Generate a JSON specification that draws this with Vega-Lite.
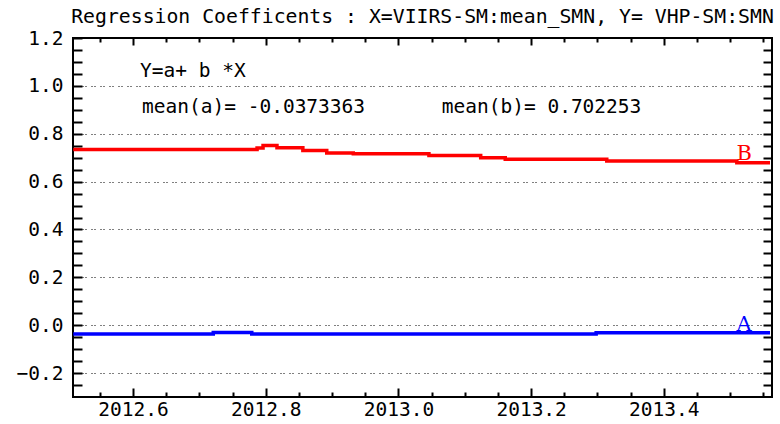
{
  "$schema": "https://vega.github.io/schema/vega-lite/v6.json",
  "autosize": "none",
  "padding": {"left": 73, "top": 38, "right": 8, "bottom": 27},
  "width": 699,
  "height": 359,
  "background": "white",
  "title": {
    "text": "Regression Coefficents : X=VIIRS-SM:mean_SMN, Y= VHP-SM:SMN",
    "font": "DejaVu Sans Mono",
    "fontSize": 19.8,
    "fontWeight": "normal",
    "color": "#000000",
    "anchor": "middle",
    "baseline": "bottom",
    "offset": 7,
    "dy": 26
  },
  "config": {
    "view": {"stroke": "#000000", "strokeWidth": 2},
    "axis": {
      "domain": false,
      "labelFont": "DejaVu Sans Mono",
      "labelFontSize": 19.5,
      "labelColor": "#000000",
      "tickColor": "#000000",
      "tickWidth": 2
    }
  },
  "datasets": {
    "coef": [
      {"series": "b", "t": 2012.510, "v": 0.734},
      {"series": "b", "t": 2012.787, "v": 0.740},
      {"series": "b", "t": 2012.796, "v": 0.751},
      {"series": "b", "t": 2012.817, "v": 0.741},
      {"series": "b", "t": 2012.856, "v": 0.730},
      {"series": "b", "t": 2012.892, "v": 0.720},
      {"series": "b", "t": 2012.932, "v": 0.716},
      {"series": "b", "t": 2013.046, "v": 0.709},
      {"series": "b", "t": 2013.124, "v": 0.700},
      {"series": "b", "t": 2013.161, "v": 0.693},
      {"series": "b", "t": 2013.314, "v": 0.686},
      {"series": "b", "t": 2013.510, "v": 0.679},
      {"series": "b", "t": 2013.560, "v": 0.679},
      {"series": "a", "t": 2012.510, "v": -0.037},
      {"series": "a", "t": 2012.721, "v": -0.030},
      {"series": "a", "t": 2012.779, "v": -0.037},
      {"series": "a", "t": 2013.298, "v": -0.032},
      {"series": "a", "t": 2013.560, "v": -0.032}
    ],
    "notes": [
      {"t": 2012.6106, "v": 1.062, "label": "Y=a+ b *X"},
      {"t": 2012.6136, "v": 0.913, "label": "mean(a)= -0.0373363"},
      {"t": 2013.0653, "v": 0.913, "label": "mean(b)= 0.702253"}
    ],
    "tags": [
      {"series": "b", "t": 2013.521, "v": 0.716, "label": "B"},
      {"series": "a", "t": 2013.521, "v": 0.002, "label": "A"}
    ]
  },
  "resolve": {"axis": {"x": "independent", "y": "independent"}},
  "layer": [
    {
      "data": {"name": "coef"},
      "mark": {"type": "line", "interpolate": "step-after", "strokeWidth": 3.5, "clip": true},
      "encoding": {
        "x": {
          "field": "t", "type": "quantitative",
          "scale": {"domain": [2012.5096, 2013.563], "nice": false, "zero": false},
          "axis": {
            "orient": "bottom",
            "title": null,
            "values": [2012.55, 2012.6, 2012.65, 2012.7, 2012.75, 2012.8, 2012.85, 2012.9, 2012.95, 2013.0, 2013.05, 2013.1, 2013.15, 2013.2, 2013.25, 2013.3, 2013.35, 2013.4, 2013.45, 2013.5, 2013.55],
            "labelExpr": "abs(datum.value*5 - round(datum.value*5)) < 0.001 ? format(datum.value, '.1f') : ''",
            "tickSize": {"condition": {"test": "abs(datum.value*5 - round(datum.value*5)) < 0.001", "value": -9}, "value": -5},
            "labelPadding": 12,
            "labelFlush": false,
            "labelOverlap": false,
            "grid": false
          }
        },
        "y": {
          "field": "v", "type": "quantitative",
          "scale": {"domain": [-0.3, 1.2], "nice": false, "zero": false},
          "axis": {
            "orient": "left",
            "title": null,
            "values": [-0.25, -0.2, -0.15, -0.1, -0.05, 0, 0.05, 0.1, 0.15, 0.2, 0.25, 0.3, 0.35, 0.4, 0.45, 0.5, 0.55, 0.6, 0.65, 0.7, 0.75, 0.8, 0.85, 0.9, 0.95, 1.0, 1.05, 1.1, 1.15, 1.2],
            "labelExpr": "abs(datum.value*5 - round(datum.value*5)) < 0.001 ? format(datum.value, '.1f') : ''",
            "tickSize": -9,
            "labelPadding": 19,
            "labelFlush": false,
            "labelOverlap": false,
            "grid": true,
            "gridColor": "#000000",
            "gridWidth": 1,
            "gridDash": [1, 2, 1, 5],
            "gridOpacity": {"condition": {"test": "abs(datum.value*5 - round(datum.value*5)) < 0.001 && datum.value < 1.1", "value": 1}, "value": 0}
          }
        },
        "color": {
          "field": "series", "type": "nominal",
          "scale": {"domain": ["a", "b"], "range": ["#0000ff", "#ff0000"]},
          "legend": null
        }
      }
    },
    {
      "data": {"name": "notes"},
      "mark": {"type": "text", "align": "left", "baseline": "middle", "font": "DejaVu Sans Mono", "fontSize": 19.5, "color": "#000000"},
      "encoding": {
        "x": {
          "field": "t", "type": "quantitative",
          "axis": {
            "orient": "top",
            "title": null,
            "values": [2012.55, 2012.6, 2012.65, 2012.7, 2012.75, 2012.8, 2012.85, 2012.9, 2012.95, 2013.0, 2013.05, 2013.1, 2013.15, 2013.2, 2013.25, 2013.3, 2013.35, 2013.4, 2013.45, 2013.5, 2013.55],
            "labels": false,
            "tickSize": {"condition": {"test": "abs(datum.value*5 - round(datum.value*5)) < 0.001", "value": -7}, "value": -4},
            "grid": false
          }
        },
        "y": {
          "field": "v", "type": "quantitative",
          "axis": {
            "orient": "right",
            "title": null,
            "values": [-0.25, -0.2, -0.15, -0.1, -0.05, 0, 0.05, 0.1, 0.15, 0.2, 0.25, 0.3, 0.35, 0.4, 0.45, 0.5, 0.55, 0.6, 0.65, 0.7, 0.75, 0.8, 0.85, 0.9, 0.95, 1.0, 1.05, 1.1, 1.15],
            "labels": false,
            "tickSize": -9,
            "grid": false
          }
        },
        "text": {"field": "label"}
      }
    },
    {
      "data": {"name": "tags"},
      "mark": {"type": "text", "align": "center", "baseline": "middle", "font": "DejaVu Serif", "fontSize": 21},
      "encoding": {
        "x": {"field": "t", "type": "quantitative", "axis": null},
        "y": {"field": "v", "type": "quantitative", "axis": null},
        "color": {"field": "series", "type": "nominal", "legend": null},
        "text": {"field": "label"}
      }
    }
  ]
}
